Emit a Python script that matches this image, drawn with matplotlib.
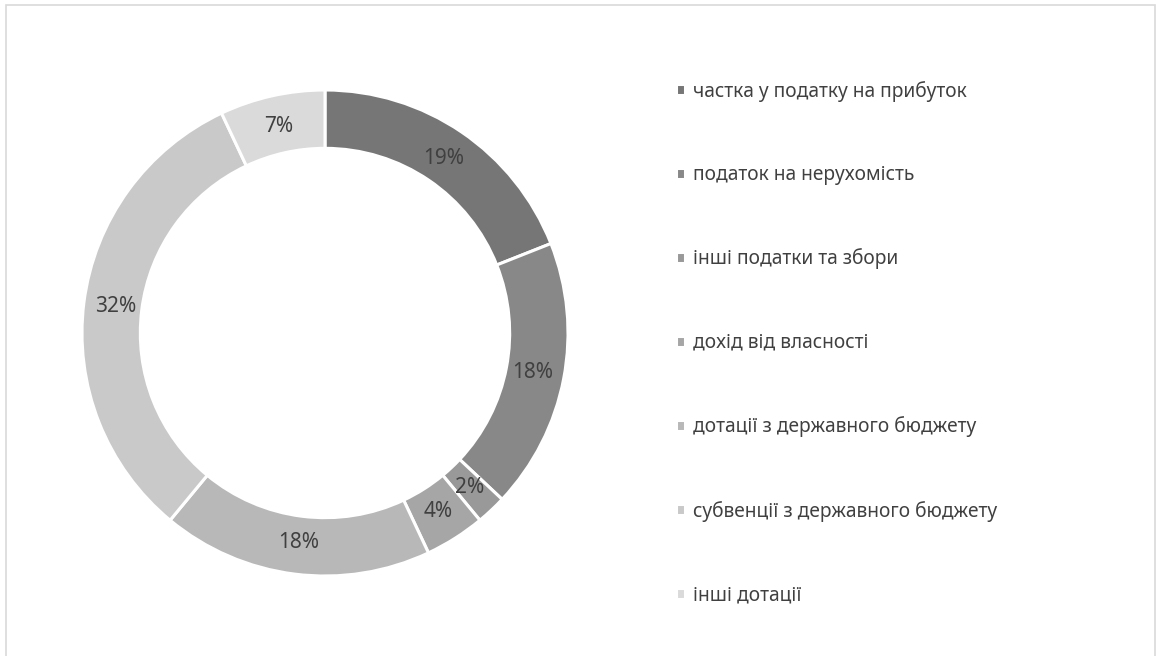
import matplotlib.pyplot as plt
from matplotlib.patches import Rectangle

plt.rcParams['font.family'] = ['Noto Sans', 'DejaVu Sans']

# revenue structure of the local budget, shares in percent
categories = [
    'частка у податку на прибуток',
    'податок на нерухомість',
    'інші податки та збори',
    'дохід від власності',
    'дотації з державного бюджету',
    'субвенції з державного бюджету',
    'інші дотації',
]
shares = [19, 18, 2, 4, 18, 32, 7]
colors = ['#767676', '#888888', '#999999', '#a6a6a6', '#b8b8b8', '#c9c9c9', '#dadada']

W, H = 1157, 656
fig = plt.figure(figsize=(W / 100, H / 100), dpi=100)

# thin frame around the chart area
fig.patches.append(Rectangle((6 / W, -0.01), (1155 - 6) / W, 1 - 5 / H + 0.01,
                             transform=fig.transFigure, fill=False,
                             edgecolor='#d9d9d9', linewidth=1.2))

cx, cy, r_px, half = 325, 333, 243, 255
ax = fig.add_axes([(cx - half) / W, (H - cy - half) / H, 2 * half / W, 2 * half / H])
lim = half / r_px

wedges, texts, autotexts = ax.pie(
    shares, colors=colors, startangle=90, counterclock=False, radius=1,
    autopct='%d%%', pctdistance=0.87,
    wedgeprops=dict(width=0.24, edgecolor='white', linewidth=2.2),
    textprops=dict(color='#404040', fontsize=15),
)
ax.set_xlim(-lim, lim)
ax.set_ylim(-lim, lim)
ax.set_aspect('equal')
ax.axis('off')

leg = fig.legend(wedges, categories, loc='upper left',
                 bbox_to_anchor=(668 / W, 1 - 73 / H),
                 frameon=False, fontsize=13.8, labelcolor='#404040',
                 handlelength=0.5, handleheight=0.5, handletextpad=0.4,
                 labelspacing=3.31, borderaxespad=0)

fig.savefig('out.png', dpi=100)
